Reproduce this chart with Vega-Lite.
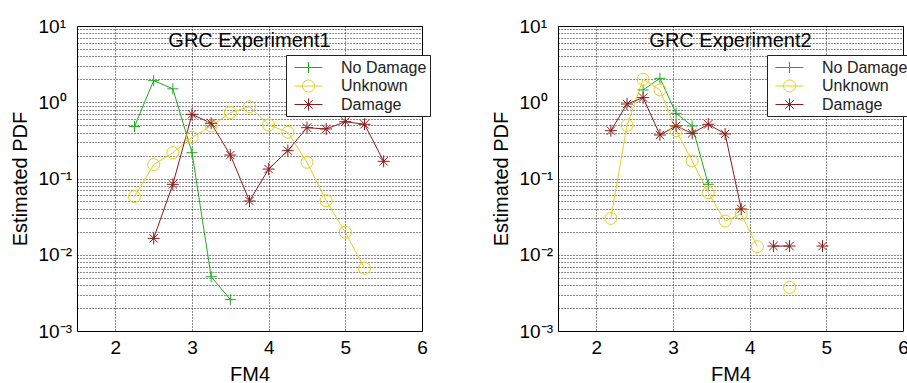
{
  "$schema": "https://vega.github.io/schema/vega-lite/v6.json",
  "padding": {"left": 9, "top": 16, "right": 0, "bottom": 0},
  "config": {
    "font": "Liberation Sans",
    "view": {"stroke": "black", "strokeWidth": 1},
    "axis": {
      "grid": true, "gridColor": "black", "gridDash": [1, 2], "gridOpacity": 0.9, "gridWidth": 1,
      "ticks": false, "tickSize": 0, "domain": false,
      "labelFontSize": 19, "labelColor": "black", "labelOverlap": false, "labelBound": false, "labelFlush": false,
      "titleFontSize": 20, "titleFontWeight": "normal", "titleColor": "black"
    },
    "legend": {"fillColor": "white", "strokeColor": "#222", "padding": 3, "rowPadding": 0.5, "symbolStrokeWidth": 1, "labelFontSize": 16, "labelColor": "#222", "symbolOpacity": 1}
  },
  "data": {"values": [
    {"exp": "1", "series": "No Damage", "fm4": 2.25, "pdf": 0.48},
    {"exp": "1", "series": "No Damage", "fm4": 2.5, "pdf": 1.92},
    {"exp": "1", "series": "No Damage", "fm4": 2.75, "pdf": 1.5},
    {"exp": "1", "series": "No Damage", "fm4": 3.0, "pdf": 0.218},
    {"exp": "1", "series": "No Damage", "fm4": 3.25, "pdf": 0.00515},
    {"exp": "1", "series": "No Damage", "fm4": 3.5, "pdf": 0.00258},
    {"exp": "1", "series": "Unknown", "fm4": 2.25, "pdf": 0.0578},
    {"exp": "1", "series": "Unknown", "fm4": 2.5, "pdf": 0.152},
    {"exp": "1", "series": "Unknown", "fm4": 2.75, "pdf": 0.218},
    {"exp": "1", "series": "Unknown", "fm4": 3.0, "pdf": 0.347},
    {"exp": "1", "series": "Unknown", "fm4": 3.25, "pdf": 0.489},
    {"exp": "1", "series": "Unknown", "fm4": 3.5, "pdf": 0.73},
    {"exp": "1", "series": "Unknown", "fm4": 3.75, "pdf": 0.875},
    {"exp": "1", "series": "Unknown", "fm4": 4.0, "pdf": 0.503},
    {"exp": "1", "series": "Unknown", "fm4": 4.25, "pdf": 0.404},
    {"exp": "1", "series": "Unknown", "fm4": 4.5, "pdf": 0.163},
    {"exp": "1", "series": "Unknown", "fm4": 4.75, "pdf": 0.0512},
    {"exp": "1", "series": "Unknown", "fm4": 5.0, "pdf": 0.0197},
    {"exp": "1", "series": "Unknown", "fm4": 5.25, "pdf": 0.00664},
    {"exp": "1", "series": "Damage", "fm4": 2.5, "pdf": 0.0164},
    {"exp": "1", "series": "Damage", "fm4": 2.75, "pdf": 0.0839},
    {"exp": "1", "series": "Damage", "fm4": 3.0, "pdf": 0.695},
    {"exp": "1", "series": "Damage", "fm4": 3.25, "pdf": 0.53},
    {"exp": "1", "series": "Damage", "fm4": 3.5, "pdf": 0.203},
    {"exp": "1", "series": "Damage", "fm4": 3.75, "pdf": 0.0507},
    {"exp": "1", "series": "Damage", "fm4": 4.0, "pdf": 0.133},
    {"exp": "1", "series": "Damage", "fm4": 4.25, "pdf": 0.232},
    {"exp": "1", "series": "Damage", "fm4": 4.5, "pdf": 0.464},
    {"exp": "1", "series": "Damage", "fm4": 4.75, "pdf": 0.446},
    {"exp": "1", "series": "Damage", "fm4": 5.0, "pdf": 0.556},
    {"exp": "1", "series": "Damage", "fm4": 5.25, "pdf": 0.514},
    {"exp": "1", "series": "Damage", "fm4": 5.5, "pdf": 0.168},
    {"exp": "2", "series": "No Damage", "fm4": 2.61, "pdf": 1.45},
    {"exp": "2", "series": "No Damage", "fm4": 2.83, "pdf": 2.06},
    {"exp": "2", "series": "No Damage", "fm4": 3.04, "pdf": 0.716},
    {"exp": "2", "series": "No Damage", "fm4": 3.25, "pdf": 0.489},
    {"exp": "2", "series": "No Damage", "fm4": 3.46, "pdf": 0.084},
    {"exp": "2", "series": "Unknown", "fm4": 2.19, "pdf": 0.03},
    {"exp": "2", "series": "Unknown", "fm4": 2.4, "pdf": 0.498},
    {"exp": "2", "series": "Unknown", "fm4": 2.61, "pdf": 2.0},
    {"exp": "2", "series": "Unknown", "fm4": 2.83, "pdf": 1.45},
    {"exp": "2", "series": "Unknown", "fm4": 3.04, "pdf": 0.424},
    {"exp": "2", "series": "Unknown", "fm4": 3.25, "pdf": 0.17},
    {"exp": "2", "series": "Unknown", "fm4": 3.46, "pdf": 0.0652},
    {"exp": "2", "series": "Unknown", "fm4": 3.68, "pdf": 0.0277},
    {"exp": "2", "series": "Unknown", "fm4": 3.89, "pdf": 0.0342},
    {"exp": "2", "series": "Unknown", "fm4": 4.1, "pdf": 0.01276},
    {"exp": "2", "series": "Unknown", "fm4": 4.31, "pdf": null},
    {"exp": "2", "series": "Unknown", "fm4": 4.52, "pdf": 0.00374},
    {"exp": "2", "series": "Damage", "fm4": 2.19, "pdf": 0.424},
    {"exp": "2", "series": "Damage", "fm4": 2.4, "pdf": 0.948},
    {"exp": "2", "series": "Damage", "fm4": 2.61, "pdf": 1.15},
    {"exp": "2", "series": "Damage", "fm4": 2.83, "pdf": 0.372},
    {"exp": "2", "series": "Damage", "fm4": 3.04, "pdf": 0.489},
    {"exp": "2", "series": "Damage", "fm4": 3.25, "pdf": 0.391},
    {"exp": "2", "series": "Damage", "fm4": 3.46, "pdf": 0.514},
    {"exp": "2", "series": "Damage", "fm4": 3.68, "pdf": 0.384},
    {"exp": "2", "series": "Damage", "fm4": 3.89, "pdf": 0.0398},
    {"exp": "2", "series": "Damage", "fm4": 4.1, "pdf": null},
    {"exp": "2", "series": "Damage", "fm4": 4.31, "pdf": 0.013},
    {"exp": "2", "series": "Damage", "fm4": 4.52, "pdf": 0.013},
    {"exp": "2", "series": "Damage", "fm4": 4.74, "pdf": null},
    {"exp": "2", "series": "Damage", "fm4": 4.95, "pdf": 0.013}
  ]},
  "spacing": 59,
  "resolve": {"scale": {"color": "independent", "shape": "independent"}},
  "hconcat": [
    {
      "width": 345, "height": 305,
      "title": {"text": "GRC Experiment1", "frame": "group", "anchor": "middle", "baseline": "middle", "offset": -16, "dy": 28, "fontSize": 20, "fontWeight": "normal", "color": "black"},
      "transform": [{"filter": "datum.exp === '1'"}],
      "encoding": {
        "x": {"field": "fm4", "type": "quantitative", "title": "FM4",
              "scale": {"domain": [1.5, 6], "nice": false, "zero": false},
              "axis": {"values": [2, 3, 4, 5, 6], "format": "d", "labelPadding": 7.5, "titlePadding": 6.5}},
        "y": {"field": "pdf", "type": "quantitative", "title": "Estimated PDF",
              "scale": {"type": "log", "domain": [0.001, 10], "nice": false},
              "axis": {"values": [0.001, 0.002, 0.003, 0.004, 0.005, 0.006, 0.007, 0.008, 0.009, 0.01, 0.02, 0.03, 0.04, 0.05, 0.06, 0.07, 0.08, 0.09, 0.1, 0.2, 0.3, 0.4, 0.5, 0.6, 0.7, 0.8, 0.9, 1, 2, 3, 4, 5, 6, 7, 8, 9, 10],
                       "labelExpr": "datum.value === 10 ? '10¹' : datum.value === 1 ? '10⁰' : datum.value === 0.1 ? '10⁻¹' : datum.value === 0.01 ? '10⁻²' : datum.value === 0.001 ? '10⁻³' : ''",
                       "labelAlign": "left", "labelBaseline": "middle", "labelPadding": 39, "titlePadding": 8}}
      },
      "layer": [
        {"mark": {"type": "line", "strokeWidth": 1},
         "encoding": {"color": {"field": "series", "type": "nominal", "scale": {"domain": ["No Damage", "Unknown", "Damage"], "range": ["#22aa22", "#e6cf1c", "#8b1c1c"]}}}},
        {"transform": [{"filter": "datum.series === 'No Damage'"}],
         "mark": {"type": "point", "shape": "M-1,0H1M0,-1V1", "size": 121, "filled": false, "strokeWidth": 1, "opacity": 1},
         "encoding": {"color": {"field": "series", "type": "nominal"}}},
        {"transform": [{"filter": "datum.series === 'Unknown'"}],
         "mark": {"type": "point", "shape": "circle", "size": 144, "filled": false, "strokeWidth": 1, "opacity": 1},
         "encoding": {"color": {"field": "series", "type": "nominal"}}},
        {"transform": [{"filter": "datum.series === 'Damage'"}],
         "mark": {"type": "point", "shape": "M-1,0H1M0,-1V1M-0.7,-0.7L0.7,0.7M-0.7,0.7L0.7,-0.7", "size": 144, "filled": false, "strokeWidth": 1, "opacity": 1},
         "encoding": {"color": {"field": "series", "type": "nominal"}}},
        {"transform": [{"filter": "false"}],
         "mark": {"type": "point", "filled": false, "strokeWidth": 1, "opacity": 1},
         "encoding": {
           "color": {"field": "series", "type": "nominal",
                     "legend": {"orient": "none", "legendX": 209, "legendY": 29, "title": null, "fillColor": "white", "strokeColor": "#222", "padding": 3, "rowPadding": 0.5, "symbolSize": 324, "symbolStrokeWidth": 1, "symbolOffset": 10, "labelOffset": 23, "labelFontSize": 16, "labelColor": "#222", "labelLimit": 300, "symbolOpacity": 1, "labelExpr": "datum.label + '\u00a0\u00a0'"}},
           "shape": {"field": "series", "type": "nominal",
                     "scale": {"domain": ["No Damage", "Unknown", "Damage"], "range": ["M-1.556,0H1.556M0,-0.611V0.611", "M-1.556,0H1.556M-0.667,0A0.667,0.667 0 1,1 0.667,0A0.667,0.667 0 1,1 -0.667,0", "M-1.556,0H1.556M0,-0.667V0.667M-0.47,-0.47L0.47,0.47M-0.47,0.47L0.47,-0.47"]},
                     "legend": {"orient": "none", "legendX": 209, "legendY": 29, "title": null, "fillColor": "white", "strokeColor": "#222", "padding": 3, "rowPadding": 0.5, "symbolSize": 324, "symbolStrokeWidth": 1, "symbolOffset": 10, "labelOffset": 23, "labelFontSize": 16, "labelColor": "#222", "labelLimit": 300, "symbolOpacity": 1, "labelExpr": "datum.label + '\u00a0\u00a0'"}}
         }}
      ]
    },
    {
      "width": 345, "height": 305,
      "title": {"text": "GRC Experiment2", "frame": "group", "anchor": "middle", "baseline": "middle", "offset": -16, "dy": 28, "fontSize": 20, "fontWeight": "normal", "color": "black"},
      "transform": [{"filter": "datum.exp === '2'"}],
      "encoding": {
        "x": {"field": "fm4", "type": "quantitative", "title": "FM4",
              "scale": {"domain": [1.5, 6], "nice": false, "zero": false},
              "axis": {"values": [2, 3, 4, 5, 6], "format": "d", "labelPadding": 7.5, "titlePadding": 6.5}},
        "y": {"field": "pdf", "type": "quantitative", "title": "Estimated PDF",
              "scale": {"type": "log", "domain": [0.001, 10], "nice": false},
              "axis": {"values": [0.001, 0.002, 0.003, 0.004, 0.005, 0.006, 0.007, 0.008, 0.009, 0.01, 0.02, 0.03, 0.04, 0.05, 0.06, 0.07, 0.08, 0.09, 0.1, 0.2, 0.3, 0.4, 0.5, 0.6, 0.7, 0.8, 0.9, 1, 2, 3, 4, 5, 6, 7, 8, 9, 10],
                       "labelExpr": "datum.value === 10 ? '10¹' : datum.value === 1 ? '10⁰' : datum.value === 0.1 ? '10⁻¹' : datum.value === 0.01 ? '10⁻²' : datum.value === 0.001 ? '10⁻³' : ''",
                       "labelAlign": "left", "labelBaseline": "middle", "labelPadding": 39, "titlePadding": 8}}
      },
      "layer": [
        {"mark": {"type": "line", "strokeWidth": 1},
         "encoding": {"color": {"field": "series", "type": "nominal", "scale": {"domain": ["No Damage", "Unknown", "Damage"], "range": ["#22aa22", "#e6cf1c", "#8b1c1c"]}}}},
        {"transform": [{"filter": "datum.series === 'No Damage'"}],
         "mark": {"type": "point", "shape": "M-1,0H1M0,-1V1", "size": 121, "filled": false, "strokeWidth": 1, "opacity": 1},
         "encoding": {"color": {"field": "series", "type": "nominal"}}},
        {"transform": [{"filter": "datum.series === 'Unknown'"}],
         "mark": {"type": "point", "shape": "circle", "size": 144, "filled": false, "strokeWidth": 1, "opacity": 1},
         "encoding": {"color": {"field": "series", "type": "nominal"}}},
        {"transform": [{"filter": "datum.series === 'Damage'"}],
         "mark": {"type": "point", "shape": "M-1,0H1M0,-1V1M-0.7,-0.7L0.7,0.7M-0.7,0.7L0.7,-0.7", "size": 144, "filled": false, "strokeWidth": 1, "opacity": 1},
         "encoding": {"color": {"field": "series", "type": "nominal"}}},
        {"transform": [{"filter": "false"}],
         "mark": {"type": "point", "filled": false, "strokeWidth": 1, "opacity": 1},
         "encoding": {
           "color": {"field": "series", "type": "nominal",
                     "legend": {"orient": "none", "legendX": 209, "legendY": 29, "title": null, "fillColor": "white", "strokeColor": "#222", "padding": 3, "rowPadding": 0.5, "symbolSize": 324, "symbolStrokeWidth": 1, "symbolOffset": 10, "labelOffset": 23, "labelFontSize": 16, "labelColor": "#222", "labelLimit": 300, "symbolOpacity": 1, "labelExpr": "datum.label + '\u00a0'"}},
           "shape": {"field": "series", "type": "nominal",
                     "scale": {"domain": ["No Damage", "Unknown", "Damage"], "range": ["M-1.556,0H1.556M0,-0.611V0.611", "M-1.556,0H1.556M-0.667,0A0.667,0.667 0 1,1 0.667,0A0.667,0.667 0 1,1 -0.667,0", "M-1.556,0H1.556M0,-0.667V0.667M-0.47,-0.47L0.47,0.47M-0.47,0.47L0.47,-0.47"]},
                     "legend": {"orient": "none", "legendX": 209, "legendY": 29, "title": null, "fillColor": "white", "strokeColor": "#222", "padding": 3, "rowPadding": 0.5, "symbolSize": 324, "symbolStrokeWidth": 1, "symbolOffset": 10, "labelOffset": 23, "labelFontSize": 16, "labelColor": "#222", "labelLimit": 300, "symbolOpacity": 1, "labelExpr": "datum.label + '\u00a0'"}}
         }}
      ]
    }
  ]
}
